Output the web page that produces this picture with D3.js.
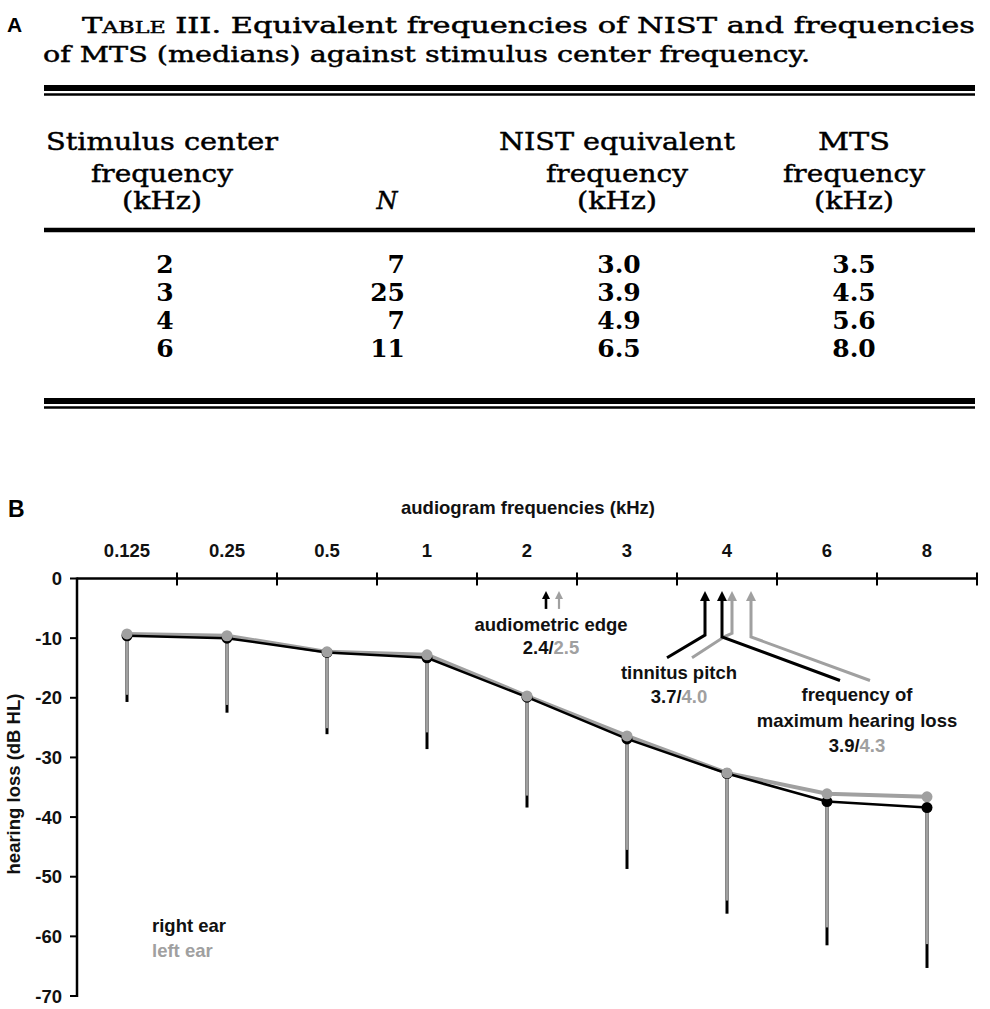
<!DOCTYPE html>
<html>
<head>
<meta charset="utf-8">
<script src="https://cdn.jsdelivr.net/npm/d3@7/dist/d3.min.js"></script>
<style>
html,body{margin:0;padding:0;background:#fff;}
svg{display:block;}
.sans{font-family:"Liberation Sans",Arial,sans-serif;font-weight:bold;font-size:18.5px;}
.serif{font-family:"DejaVu Serif",serif;}
.heavy{stroke:#000;stroke-width:0.45px;}
</style>
</head>
<body>
<script>
// ---------- Table (panel A) data ----------
const tableCenterFreq = ["2", "3", "4", "6"];
const tableN = ["7", "25", "7", "11"];
const tableNIST = ["3.0", "3.9", "4.9", "6.5"];
const tableMTS = ["3.5", "4.5", "5.6", "8.0"];
const headCol1 = ["Stimulus center", "frequency", "(kHz)"];
const headCol3 = ["NIST equivalent", "frequency", "(kHz)"];
const headCol4 = ["MTS", "frequency", "(kHz)"];

// ---------- Chart (panel B) data ----------
const categories = ["0.125", "0.25", "0.5", "1", "2", "3", "4", "6", "8"];
const rightEar = [-9.6, -10.0, -12.4, -13.3, -19.9, -26.9, -32.7, -37.4, -38.4];
const leftEar  = [-9.3, -9.6, -12.3, -12.8, -19.7, -26.4, -32.6, -36.1, -36.6];
const rightErrLow = [-20.7, -22.5, -26.1, -28.6, -38.4, -48.7, -56.2, -61.5, -65.3];
const leftErrLow  = [-19.5, -21.2, -25.1, -25.8, -36.4, -45.5, -54.0, -58.5, -61.3];
const yTicks = [0, -10, -20, -30, -40, -50, -60, -70];
// annotation arrows, positions as fractional category index / dB
const edgeArrows = [{ear: "right", pos: 4.19}, {ear: "left", pos: 4.32}];
const leaderArrows = [
  {ear: "right", pts: [[5.78, -2.1], [5.78, -9.5], [5.40, -13.3]]},   // tinnitus pitch 3.7
  {ear: "left",  pts: [[6.05, -2.1], [6.05, -9.2], [5.98, -9.7], [5.65, -13.3]]}, // tinnitus 4.0
  {ear: "right", pts: [[5.95, -2.1], [5.95, -9.8], [7.13, -17.1]]},   // max HL 3.9
  {ear: "left",  pts: [[6.24, -2.1], [6.24, -9.8], [7.43, -17.1]]}    // max HL 4.3
];

const BLACK = "#000", GRAY = "#a0a0a0";
const W = 990, H = 1009;
const svg = d3.select("body").append("svg").attr("width", W).attr("height", H);

// ================= PANEL A =================
const A = svg.append("g");
A.append("text").attr("class", "sans").attr("x", 7).attr("y", 32)
  .style("font-size", "21px").text("A");

const cap1 = A.append("text").attr("class", "serif heavy").attr("x", 82).attr("y", 33)
  .style("font-size", "22px").attr("textLength", 893).attr("lengthAdjust", "spacingAndGlyphs");
cap1.append("tspan").text("T");
cap1.append("tspan").style("font-size", "16px").text("ABLE");
cap1.append("tspan").text(" III. Equivalent frequencies of NIST and frequencies");
A.append("text").attr("class", "serif heavy").attr("x", 43).attr("y", 62)
  .style("font-size", "22px").attr("textLength", 767).attr("lengthAdjust", "spacingAndGlyphs")
  .text("of MTS (medians) against stimulus center frequency.");

function hline(g, y, w) {
  g.append("line").attr("x1", 44).attr("x2", 975).attr("y1", y).attr("y2", y)
    .attr("stroke", "#000").attr("stroke-width", w);
}
hline(A, 88, 6); hline(A, 94.5, 2.5);
hline(A, 230, 4.5);
hline(A, 401, 6); hline(A, 407.5, 2.5);

const headBase = [150, 182, 209];
const headWidths = [null, 142, 80];
function header(lines, cx, firstW) {
  lines.forEach((t, i) => {
    const el = A.append("text").attr("class", "serif heavy").attr("x", cx).attr("y", headBase[i])
      .attr("text-anchor", "middle").style("font-size", "24px").text(t);
    const w = i === 0 ? firstW : headWidths[i];
    if (w) el.attr("textLength", w).attr("lengthAdjust", "spacingAndGlyphs");
  });
}
header(headCol1, 162, 232);
header(headCol3, 617, 236);
header(headCol4, 854, 72);
A.append("text").attr("class", "serif heavy").attr("x", 387).attr("y", 209)
  .attr("text-anchor", "middle").style("font-size", "24px").style("font-style", "italic").text("N");

const rowBase = i => 273 + i * 28;
function col(vals, x, anchor) {
  A.selectAll(null).data(vals).enter().append("text").attr("class", "serif")
    .attr("x", x).attr("y", (d, i) => rowBase(i)).attr("text-anchor", anchor)
    .style("font-size", "25px").style("font-weight", "bold").text(d => d);
}
col(tableCenterFreq, 165, "middle");
col(tableN, 405, "end");
col(tableNIST, 619, "middle");
col(tableMTS, 854, "middle");

// ================= PANEL B =================
const B = svg.append("g");
B.append("text").attr("class", "sans").attr("x", 8).attr("y", 517)
  .style("font-size", "23px").text("B");

const x = d3.scaleBand().domain(categories).range([77, 977]).padding(0);
const xc = c => x(c) + x.bandwidth() / 2;
const xi = d3.scaleLinear().domain([0, categories.length - 1]).range([xc(categories[0]), xc(categories[categories.length - 1])]);
const y = d3.scaleLinear().domain([0, -70]).range([578.5, 996]);

// top axis
B.append("line").attr("x1", 77).attr("x2", 977).attr("y1", y(0)).attr("y2", y(0))
  .attr("stroke", "#000").attr("stroke-width", 2.5);
B.selectAll(null).data(categories).enter().append("line")
  .attr("x1", d => x(d) + x.bandwidth()).attr("x2", d => x(d) + x.bandwidth())
  .attr("y1", y(0) - 6).attr("y2", y(0) + 7).attr("stroke", "#000").attr("stroke-width", 2);
B.selectAll(null).data(categories).enter().append("text").attr("class", "sans")
  .attr("x", d => xc(d)).attr("y", 557).attr("text-anchor", "middle").attr("fill", "#111").text(d => d);
B.append("text").attr("class", "sans").attr("x", 528).attr("y", 514).attr("text-anchor", "middle")
  .attr("fill", "#111").text("audiogram frequencies (kHz)");

// left axis
B.append("line").attr("x1", 77).attr("x2", 77).attr("y1", y(0) - 1).attr("y2", y(-70) + 1)
  .attr("stroke", "#000").attr("stroke-width", 2.5);
B.selectAll(null).data(yTicks).enter().append("line")
  .attr("x1", 70).attr("x2", 77).attr("y1", d => y(d)).attr("y2", d => y(d))
  .attr("stroke", "#000").attr("stroke-width", 2);
B.selectAll(null).data(yTicks).enter().append("text").attr("class", "sans")
  .attr("x", 62).attr("y", d => y(d)).attr("dy", "0.36em").attr("text-anchor", "end")
  .attr("fill", "#111").text(d => d);
B.append("text").attr("class", "sans").attr("transform", "translate(20,784) rotate(-90)")
  .attr("text-anchor", "middle").attr("fill", "#111").text("hearing loss (dB HL)");

// error bars
B.selectAll(null).data(categories).enter().append("line")
  .attr("x1", d => xc(d)).attr("x2", d => xc(d))
  .attr("y1", (d, i) => y(rightEar[i])).attr("y2", (d, i) => y(rightErrLow[i]))
  .attr("stroke", BLACK).attr("stroke-width", 3);
B.selectAll(null).data(categories).enter().append("line")
  .attr("x1", d => xc(d)).attr("x2", d => xc(d))
  .attr("y1", (d, i) => y(leftEar[i])).attr("y2", (d, i) => y(leftErrLow[i]))
  .attr("stroke", GRAY).attr("stroke-width", 2.5);

// lines
const line = d3.line().x((d, i) => xc(categories[i])).y(d => y(d));
B.append("path").attr("d", line(leftEar)).attr("fill", "none").attr("stroke", GRAY).attr("stroke-width", 4);
B.append("path").attr("d", line(rightEar)).attr("fill", "none").attr("stroke", BLACK).attr("stroke-width", 2.5);
B.selectAll(null).data(rightEar).enter().append("circle")
  .attr("cx", (d, i) => xc(categories[i])).attr("cy", d => y(d)).attr("r", 5.5).attr("fill", BLACK);
B.selectAll(null).data(leftEar).enter().append("circle")
  .attr("cx", (d, i) => xc(categories[i])).attr("cy", d => y(d)).attr("r", 5.5).attr("fill", GRAY);

// arrows
function head(g, px, py, w, h, color) {
  g.append("path").attr("d", `M${px},${py}L${px - w / 2},${py + h}L${px + w / 2},${py + h}Z`).attr("fill", color);
}
edgeArrows.forEach(a => {
  const c = a.ear === "right" ? BLACK : GRAY;
  const px = xi(a.pos), tip = y(-2.1);
  B.append("line").attr("x1", px).attr("x2", px).attr("y1", tip + 6).attr("y2", y(-5.1))
    .attr("stroke", c).attr("stroke-width", a.ear === "right" ? 2.6 : 2.2);
  head(B, px, tip, 8, 8, c);
});
leaderArrows.forEach(a => {
  const c = a.ear === "right" ? BLACK : GRAY;
  const pts = a.pts.map(p => [xi(p[0]), y(p[1])]);
  pts[0] = [pts[0][0], pts[0][1] + 8];
  B.append("path").attr("d", d3.line()(pts)).attr("fill", "none").attr("stroke", c)
    .attr("stroke-width", 3).attr("stroke-linejoin", "miter");
  head(B, xi(a.pts[0][0]), y(a.pts[0][1]), 10, 10, c);
});

// annotation texts
function label(cx, yb, t) {
  B.append("text").attr("class", "sans").attr("x", cx).attr("y", yb).attr("text-anchor", "middle")
    .attr("fill", "#111").text(t);
}
function pair(cx, yb, a, b) {
  const t = B.append("text").attr("class", "sans").attr("x", cx).attr("y", yb).attr("text-anchor", "middle");
  t.append("tspan").attr("fill", "#111").text(a + "/");
  t.append("tspan").attr("fill", GRAY).text(b);
}
label(551, 631, "audiometric edge");
pair(551, 654, "2.4", "2.5");
label(679, 679, "tinnitus pitch");
pair(679, 703, "3.7", "4.0");
label(857, 701, "frequency of");
label(857, 727, "maximum hearing loss");
pair(857, 752, "3.9", "4.3");

// legend
B.append("text").attr("class", "sans").attr("x", 152).attr("y", 932).attr("fill", "#111").text("right ear");
B.append("text").attr("class", "sans").attr("x", 152).attr("y", 957).attr("fill", GRAY).text("left ear");
</script>
</body>
</html>
